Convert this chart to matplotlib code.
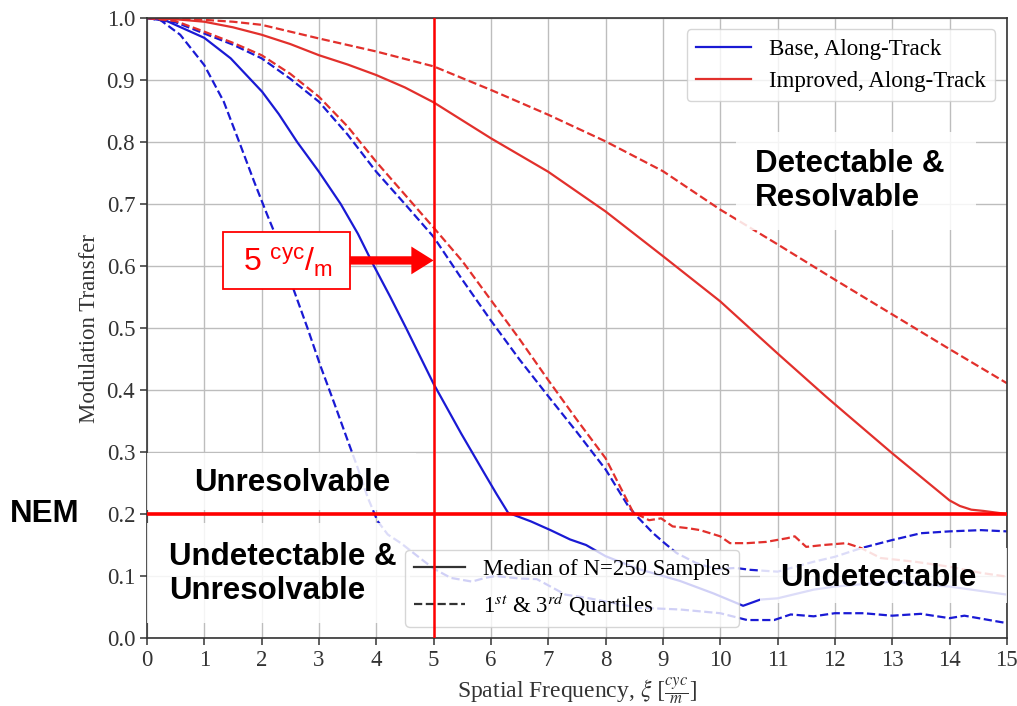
import matplotlib
matplotlib.use('Agg')
import matplotlib.pyplot as plt
from matplotlib.patches import Rectangle
from matplotlib.lines import Line2D
import matplotlib.transforms as mtransforms

# spatial frequency samples and modulation transfer
base_med_x = [0, 0.35, 1.0, 1.46, 2.01, 2.3, 2.62, 3.0, 3.38, 3.68, 3.96, 4.24, 4.52, 5.0, 5.48, 5.89, 6.1, 6.3,
              6.7, 7.04, 7.38, 7.66, 8.0, 8.55, 9.3, 9.88, 10.4, 10.7, 11.0, 11.63, 12.0, 13.0, 14.0, 15.0]
base_med = [1.0, 0.995, 0.968, 0.935, 0.881, 0.845, 0.8, 0.752, 0.7, 0.652, 0.6, 0.551, 0.5, 0.41, 0.33, 0.265, 0.232, 0.202,
            0.188, 0.174, 0.159, 0.15, 0.132, 0.112, 0.092, 0.072, 0.052, 0.062, 0.064, 0.078, 0.083, 0.091, 0.083, 0.07]

base_q1_x = [0, 0.23, 0.58, 1.0, 1.34, 1.63, 1.87, 2.1, 2.22, 2.57, 2.8, 3.03, 3.27, 3.5, 3.67,
             3.85, 4.02, 4.2, 4.43, 4.72, 5.0, 5.3, 5.67, 5.9, 6.08, 6.5, 6.8, 7.0, 7.3, 7.66,
             8.55, 9.3, 10.0, 10.47, 10.94, 11.23, 11.63, 12.0, 12.5, 13.0, 13.5, 14.0, 14.26, 15.0]
base_q1 = [1.0, 0.997, 0.973, 0.924, 0.865, 0.795, 0.736, 0.682, 0.655, 0.559, 0.5, 0.438, 0.378, 0.319, 0.276,
           0.227, 0.189, 0.167, 0.153, 0.132, 0.112, 0.097, 0.091, 0.097, 0.1, 0.096, 0.095, 0.085, 0.07, 0.065,
           0.049, 0.046, 0.04, 0.029, 0.029, 0.038, 0.035, 0.04, 0.04, 0.036, 0.039, 0.032, 0.036, 0.024]

base_q3_x = [0, 0.5, 1.0, 1.5, 2.0, 2.5, 3.0, 3.5, 4.0, 4.5, 5.0, 5.5, 6.0, 6.5, 7.0, 7.5, 8.0,
             8.4, 8.55, 8.83, 9.03, 9.24, 9.58, 9.93, 10.27, 10.52, 11.0, 11.63, 12.0, 12.46, 13.0,
             13.5, 14.0, 14.55, 15.0]
base_q3 = [1.0, 0.993, 0.975, 0.957, 0.935, 0.902, 0.865, 0.812, 0.752, 0.7, 0.647, 0.578, 0.512, 0.449, 0.39, 0.332, 0.272,
           0.212, 0.196, 0.169, 0.153, 0.137, 0.121, 0.111, 0.113, 0.11, 0.107, 0.123, 0.131, 0.145, 0.158,
           0.169, 0.172, 0.174, 0.172]

imp_med_x = [0, 0.5, 1, 1.5, 2, 2.5, 3, 3.5, 4, 4.5, 5, 6, 7, 8, 9, 10, 11.0, 11.85, 12.19, 13.0, 14.0, 14.18, 14.38, 14.59, 15.0]
imp_med = [1.0, 0.998, 0.994, 0.985, 0.973, 0.958, 0.94, 0.925, 0.908, 0.888, 0.864, 0.806, 0.752, 0.688, 0.616, 0.543,
           0.459, 0.389, 0.362, 0.298, 0.222, 0.213, 0.207, 0.205, 0.2]

imp_q1_x = [0, 0.5, 1, 1.5, 2, 2.5, 3, 3.5, 4, 4.5, 5, 5.5, 6, 6.5, 7, 7.5, 8,
            8.48, 8.76, 8.97, 9.17, 9.45, 9.65, 10.0, 10.17, 10.47, 10.8, 11.17, 11.3, 11.5, 11.8, 12.2,
            12.46, 12.8, 13.4, 14.0, 14.55, 15.0]
imp_q1 = [1.0, 0.995, 0.978, 0.96, 0.94, 0.91, 0.873, 0.825, 0.768, 0.715, 0.662, 0.608, 0.545, 0.482, 0.416, 0.352, 0.29,
          0.203, 0.19, 0.193, 0.18, 0.177, 0.174, 0.164, 0.153, 0.153, 0.155, 0.161, 0.164, 0.147, 0.15, 0.153,
          0.145, 0.129, 0.123, 0.115, 0.105, 0.099]

imp_q3_x = [0, 0.5, 1, 1.5, 2, 3, 4, 5, 6, 7, 8, 9, 10, 11, 12, 13, 14, 15]
imp_q3 = [1.0, 0.999, 0.997, 0.994, 0.989, 0.967, 0.946, 0.922, 0.884, 0.844, 0.801, 0.753, 0.691, 0.635, 0.578, 0.522,
          0.466, 0.411]

nem = 0.2
target_freq = 5

plt.rcParams['font.family'] = ['Liberation Serif', 'DejaVu Serif']
plt.rcParams['mathtext.fontset'] = 'stix'
plt.rcParams['mathtext.rm'] = 'Liberation Sans'
plt.rcParams['mathtext.it'] = 'Liberation Sans:italic'

BLUE = '#1a1ad4'
RED = '#e2302c'
SANS = ['Liberation Sans', 'DejaVu Sans']

fig = plt.figure(figsize=(10.17, 7.06), dpi=100)
ax = fig.add_axes([0.1445, 0.0963, 0.8455, 0.8782])

ax.plot(base_med_x, base_med, color=BLUE, lw=1.6, zorder=2)
ax.plot(base_q1_x, base_q1, color=BLUE, lw=1.6, ls='--', zorder=2)
ax.plot(base_q3_x, base_q3, color=BLUE, lw=1.6, ls='--', zorder=2)
ax.plot(imp_med_x, imp_med, color=RED, lw=1.6, zorder=2)
ax.plot(imp_q1_x, imp_q1, color=RED, lw=1.6, ls='--', zorder=2)
ax.plot(imp_q3_x, imp_q3, color=RED, lw=1.6, ls='--', zorder=2)

ax.set_xlim(0, 15)
ax.set_ylim(0, 1.0)
ax.set_xticks(range(0, 16))
ax.set_yticks([i / 10 for i in range(11)])
ax.set_yticklabels(['%.1f' % (i / 10) for i in range(11)])
ax.grid(True, color='#bdbdbd', lw=1.0, zorder=0)
ax.set_axisbelow(True)
ax.tick_params(labelsize=16.5, colors='#333333', length=5, width=1.1, direction='out')
for s in ax.spines.values():
    s.set_color('#333333')
    s.set_linewidth(1.2)

ax.set_ylabel('Modulation Transfer', fontsize=16.5, color='#333333', labelpad=5)
ax.set_xlabel(r'Spatial Frequency, $\xi\ [\frac{cyc}{m}]$', fontsize=17, color='#333333', labelpad=3)

# semi-transparent white patches behind the region labels
for (x0, y0, w, h) in [(10.27, 0.658, 4.19, 0.158), (0.0, 0.206, 4.7, 0.092),
                       (0.0, 0.024, 4.58, 0.161), (10.7, 0.056, 4.3, 0.089)]:
    ax.add_patch(Rectangle((x0, y0), w, h, facecolor='white', edgecolor='none', alpha=0.85, zorder=3))

ax.text(10.6, 0.737, 'Detectable &\nResolvable', family=SANS, weight='bold', fontsize=22.5,
        ha='left', va='center', linespacing=1.2, zorder=4)
ax.text(2.53, 0.25, 'Unresolvable', family=SANS, weight='bold', fontsize=22.5,
        ha='center', va='center', zorder=4)
ax.text(0.38, 0.103, 'Undetectable &\nUnresolvable', family=SANS, weight='bold', fontsize=22.5,
        ha='left', va='center', linespacing=1.2, zorder=4)
ax.text(12.75, 0.097, 'Undetectable', family=SANS, weight='bold', fontsize=22.5,
        ha='center', va='center', zorder=4)

trans = mtransforms.blended_transform_factory(ax.transAxes, ax.transData)
ax.text(-0.119, nem, 'NEM', transform=trans, family=SANS, weight='bold', fontsize=22.5,
        ha='center', va='center', clip_on=False)

# threshold lines
ax.axhline(nem, color='#ff0000', lw=2.6, zorder=6)
ax.axvline(target_freq, color='#ff0000', lw=1.8, zorder=6)

# 5 cyc/m callout
ax.add_patch(Rectangle((1.32, 0.563), 2.22, 0.092, facecolor='white', edgecolor='#ff0000',
                       lw=1.3, zorder=5))
t = ax.text(2.45, 0.606, r'5 $^{\mathrm{cyc}}$/$_{\mathrm{m}}$', color='#ff0000', fontsize=23,
            family=SANS, ha='center', va='center', zorder=6)
t.set_math_fontfamily('custom')
ax.annotate('', xy=(target_freq, 0.609), xytext=(3.54, 0.609), zorder=6,
            arrowprops=dict(arrowstyle='simple,head_length=0.8,head_width=1.0,tail_width=0.3',
                            fc='#ff0000', ec='none', mutation_scale=20, shrinkA=0, shrinkB=0))

leg1 = ax.legend([Line2D([], [], color=BLUE, lw=1.6), Line2D([], [], color=RED, lw=1.6)],
                 ['Base, Along-Track', 'Improved, Along-Track'],
                 loc='upper right', fontsize=16.5, handlelength=2.4, borderaxespad=0.5)
leg1.set_zorder(5)
ax.add_artist(leg1)

leg2 = ax.legend([Line2D([], [], color='#333333', lw=1.6), Line2D([], [], color='#333333', lw=1.6, ls='--')],
                 ['Median of N=250 Samples', r'1$^{st}$ & 3$^{rd}$ Quartiles'],
                 loc='lower left', bbox_to_anchor=(0.3, 0.018), borderaxespad=0,
                 fontsize=16.5, handlelength=2.2)
leg2.set_zorder(5)

fig.savefig('out.png', dpi=100)
